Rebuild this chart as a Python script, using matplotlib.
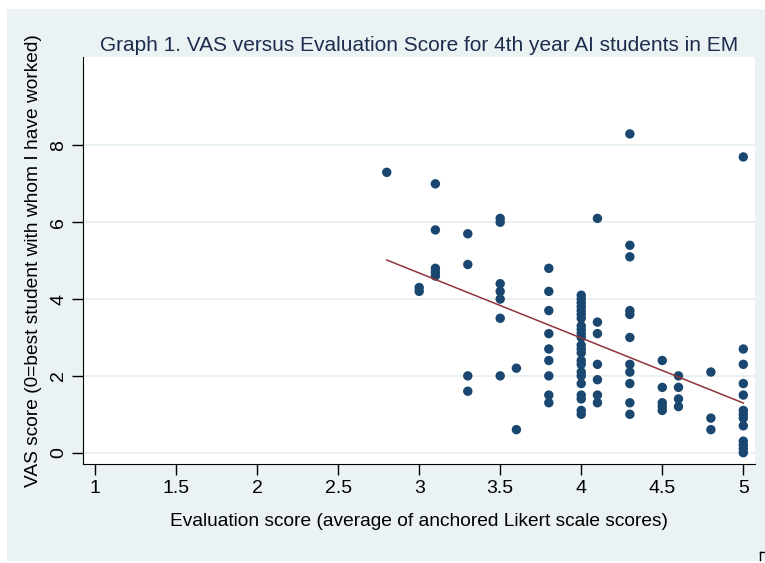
import numpy as np
import matplotlib.pyplot as plt
from matplotlib.patches import Rectangle
from matplotlib.lines import Line2D

plt.rcParams['font.family'] = ['Liberation Sans', 'DejaVu Sans']

# evaluation score -> VAS scores observed at that score
score_groups = [2.8, 3.0, 3.1, 3.3, 3.5, 3.6, 3.8, 4.0, 4.1, 4.3, 4.5, 4.6, 4.8, 5.0]
vas_groups = [
    [7.3],
    [4.3, 4.2],
    [7.0, 5.8, 4.8, 4.7, 4.6],
    [5.7, 4.9, 2.0, 1.6],
    [6.1, 6.0, 4.4, 4.2, 4.0, 3.5, 2.0],
    [2.2, 0.6],
    [4.8, 4.2, 3.7, 3.1, 2.7, 2.4, 2.0, 1.5, 1.3],
    [4.1, 4.0, 3.9, 3.8, 3.7, 3.6, 3.5, 3.3, 3.2, 3.1, 3.0, 2.8, 2.7, 2.6,
     2.4, 2.3, 2.1, 2.0, 1.8, 1.5, 1.4, 1.1, 1.0],
    [6.1, 3.4, 3.1, 2.3, 1.9, 1.5, 1.3],
    [8.3, 5.4, 5.1, 3.7, 3.6, 3.0, 2.3, 2.1, 1.8, 1.3, 1.0],
    [2.4, 1.7, 1.3, 1.2, 1.1],
    [2.0, 1.7, 1.4, 1.2],
    [2.1, 0.9, 0.6],
    [7.7, 2.7, 2.3, 1.8, 1.5, 1.1, 1.0, 0.9, 0.7, 0.3, 0.2, 0.1, 0.0],
]
x_ticks = [1, 1.5, 2, 2.5, 3, 3.5, 4, 4.5, 5]
x_tick_labels = ['1', '1.5', '2', '2.5', '3', '3.5', '4', '4.5', '5']
y_ticks = [0, 2, 4, 6, 8]

x = np.concatenate([[s] * len(v) for s, v in zip(score_groups, vas_groups)])
y = np.concatenate(vas_groups)

fig = plt.figure(figsize=(7.65, 5.63), dpi=100, facecolor='white')
# stata-style light background panel
fig.add_artist(Rectangle((0.009, 0.004), 0.991, 0.98, transform=fig.transFigure,
                         facecolor='#eaf2f3', edgecolor='none', zorder=-10))

ax = fig.add_axes([0.1081, 0.1750, 0.8788, 0.7229])
ax.set_facecolor('white')

ax.scatter(x, y, s=46, color='#1a476f', edgecolors='none', zorder=3)

# linear fit
slope, intercept = np.polyfit(x, y, 1)
xf = np.array([x.min(), x.max()])
ax.plot(xf, slope * xf + intercept, color='#90353b', lw=1.1, zorder=4)

ax.set_xlim(0.924, 5.072)
ax.set_ylim(-0.307, 10.29)
ax.set_xticks(x_ticks)
ax.set_xticklabels(x_tick_labels)
ax.set_yticks(y_ticks)
for lab in ax.get_yticklabels():
    lab.set_rotation(90)
    lab.set_va('center')

ax.grid(axis='y', color='#e6eff1', lw=1.3, zorder=0)
ax.set_axisbelow(True)
ax.spines['top'].set_visible(False)
ax.spines['right'].set_visible(False)
ax.spines['left'].set_color('black')
ax.spines['bottom'].set_color('black')
ax.tick_params(axis='both', direction='out', length=8, width=1, colors='black',
               labelsize=14, pad=3)

ax.set_xlabel('Evaluation score (average of anchored Likert scale scores)',
              fontsize=13.8, labelpad=12)
ax.set_ylabel('VAS score (0=best student with whom I have worked)',
              fontsize=13.8, labelpad=6)
ax.set_title('Graph 1. VAS versus Evaluation Score for 4th year AI students in EM',
             fontsize=15, color='#1e2d4e', pad=5)

# small corner mark at bottom right
fig.add_artist(Line2D([0.9935, 0.9935], [0.005, 0.02], transform=fig.transFigure,
                      color='black', lw=1))
fig.add_artist(Line2D([0.9935, 0.999], [0.02, 0.02], transform=fig.transFigure,
                      color='black', lw=1))

fig.savefig('out.png', dpi=100)
